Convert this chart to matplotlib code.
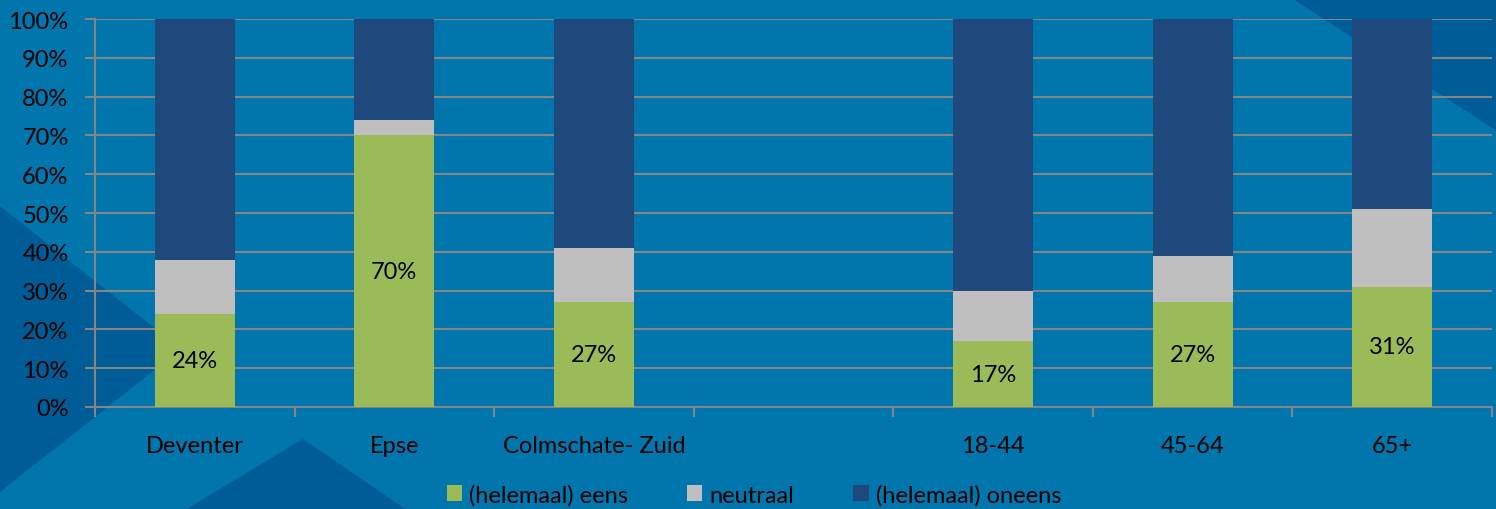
import numpy as np
import matplotlib
matplotlib.use('Agg')
from matplotlib import pyplot as plt
from matplotlib.patches import Polygon

# data
categories = ['Deventer', 'Epse', 'Colmschate- Zuid', '', '18-44', '45-64', '65+']
eens = [24, 70, 27, np.nan, 17, 27, 31]
neutraal = [14, 4, 14, np.nan, 13, 12, 20]
oneens = [62, 26, 59, np.nan, 70, 61, 49]
series_names = ['(helemaal) eens', 'neutraal', '(helemaal) oneens']
yticks = [0, 10, 20, 30, 40, 50, 60, 70, 80, 90, 100]

BG = '#0076ad'
DARK = '#005c96'
GREEN = '#9bbb59'
GREY = '#bfbfbf'
NAVY = '#1f497d'
GRID = '#858585'
FS = 17

plt.rcParams['font.family'] = ['Lato', 'DejaVu Sans']
W, H = 1496, 510
fig = plt.figure(figsize=(W / 100, H / 100), dpi=100)
fig.patch.set_facecolor(BG)

# background triangles, given in pixels from top-left
def px(pts):
    return [(x / W, 1 - y / H) for x, y in pts]

for pts in ([(0, 207), (181, 350), (0, 493)],
            [(303, 440), (170, 520), (420, 520)],
            [(1293, 0), (1500, 0), (1500, 134)]):
    fig.patches.append(Polygon(px(pts), closed=True, facecolor=DARK,
                               edgecolor='none', transform=fig.transFigure, zorder=-5))

ax = fig.add_axes([95 / W, 1 - 408 / H, (1492 - 95) / W, (408 - 20) / H])
ax.set_facecolor('none')
ax.set_zorder(1)

x = np.arange(len(categories))
eens_a = np.array(eens, dtype=float)
neu_a = np.array(neutraal, dtype=float)
one_a = np.array(oneens, dtype=float)
bw = 0.4
b1 = ax.bar(x, eens_a, bw, color=GREEN, label=series_names[0], zorder=3)
b2 = ax.bar(x, neu_a, bw, bottom=eens_a, color=GREY, label=series_names[1], zorder=3)
b3 = ax.bar(x, one_a, bw, bottom=eens_a + neu_a, color=NAVY, label=series_names[2], zorder=3)

for xi, v in zip(x, eens):
    if not np.isnan(v):
        ax.text(xi, v / 2, f'{v:.0f}%', ha='center', va='center', fontsize=FS,
                color='black', zorder=4)

ax.set_xlim(-0.5, len(categories) - 0.5)
ax.set_ylim(0, 100)
ax.set_yticks(yticks)
ax.set_yticklabels([f'{t}%' for t in yticks])
ax.yaxis.grid(True, color=GRID, linewidth=1.5, zorder=1)
ax.tick_params(axis='y', length=7, width=1.5, color=GRID, pad=12, labelsize=FS)

ax.set_xticks(x)
ax.set_xticklabels(categories)
ax.set_xticks(np.arange(-0.5, len(categories)), minor=True)
ax.tick_params(axis='x', which='major', length=0, pad=20, labelsize=FS)
ax.tick_params(axis='x', which='minor', length=7, width=1.5, color=GRID)

for s in ['top', 'right']:
    ax.spines[s].set_visible(False)
for s in ['left', 'bottom']:
    ax.spines[s].set_color(GRID)
    ax.spines[s].set_linewidth(1.5)

fig.legend(handles=[b1, b2, b3], loc='lower center', ncol=3, frameon=False,
           fontsize=FS, handlelength=0.65, handleheight=0.65, handletextpad=0.3,
           columnspacing=2.5, bbox_to_anchor=(0.504, -0.035))

fig.savefig('out.png', dpi=100, facecolor=BG)
